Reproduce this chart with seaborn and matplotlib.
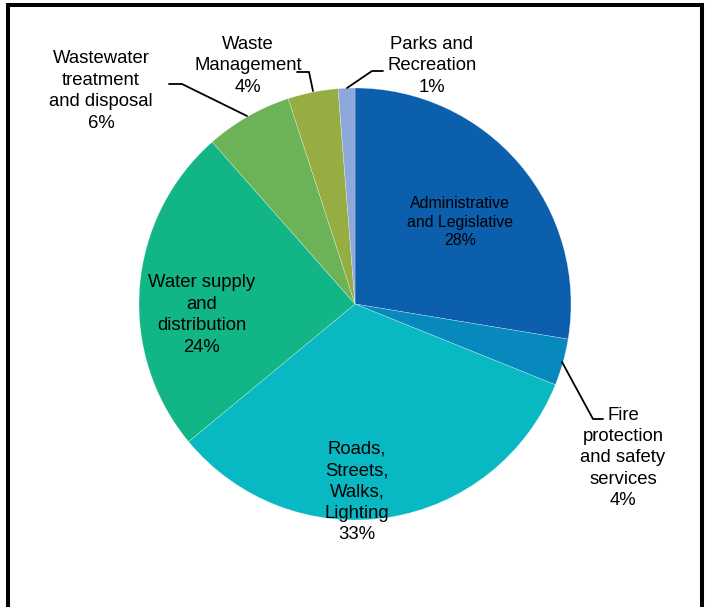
import matplotlib
matplotlib.use("Agg")
import matplotlib.pyplot as plt
import seaborn as sns

sns.set_theme(style="white")
plt.rcParams['font.family'] = ['Liberation Sans', 'DejaVu Sans']

categories = ["Administrative\nand Legislative",
              "Fire\nprotection\nand safety\nservices",
              "Roads,\nStreets,\nWalks,\nLighting",
              "Water supply\nand\ndistribution",
              "Wastewater\ntreatment\nand disposal",
              "Waste\nManagement",
              "Parks and\nRecreation"]
values = [27.6, 3.5, 32.9, 24.5, 6.5, 3.75, 1.25]
pct_labels = ["28%", "4%", "33%", "24%", "6%", "4%", "1%"]
colors = ["#0B5FAD", "#0889BE", "#08B8C2", "#12B586", "#6BB356", "#95AD42", "#8EA8DA"]

W, H = 708, 607
fig = plt.figure(figsize=(W / 100, H / 100), dpi=100)
ax = fig.add_axes([0, 0, 1, 1])

def Y(y):
    return H - y

cx, cy, r = 355, 304, 216
ax.pie(values, colors=colors, startangle=90, counterclock=False,
       center=(cx, Y(cy)), radius=r,
       wedgeprops=dict(edgecolor=(1, 1, 1, 0.6), linewidth=0.3))
ax.set_xlim(0, W)
ax.set_ylim(0, H)
ax.set_aspect('equal')
ax.axis('off')

# label positions (pixel coords of text centre)
label_pos = [(460, 222), (623, 458), (357, 492), (202, 315),
             (101, 91), (248, 66), (432, 66)]
sizes = [11.4, 13.3, 13.3, 13.3, 13.3, 13.3, 13.3]
spacing = [1.28, 1.34, 1.34, 1.34, 1.34, 1.34, 1.34]
for cat, pct, (x, y), fs, ls in zip(categories, pct_labels, label_pos, sizes, spacing):
    ax.text(x, Y(y), f"{cat}\n{pct}", ha="center", va="center",
            fontsize=fs, color="black", linespacing=ls)

# leader lines
leaders = [
    [(562, 362), (593, 419), (603, 419)],
    [(247, 116), (182, 84), (169, 84)],
    [(313, 91), (309, 72), (297, 72)],
    [(347, 88), (372, 71), (383, 71)],
]
for pts in leaders:
    ax.plot([p[0] for p in pts], [Y(p[1]) for p in pts], color="black",
            linewidth=1.3, solid_joinstyle="miter")

# frame (no bottom edge)
ax.plot([8, 8, 702, 702], [0, Y(5), Y(5), 0], color="black", linewidth=2.9,
        solid_joinstyle="miter", solid_capstyle="butt", clip_on=False)

fig.savefig("out.png", dpi=100)
